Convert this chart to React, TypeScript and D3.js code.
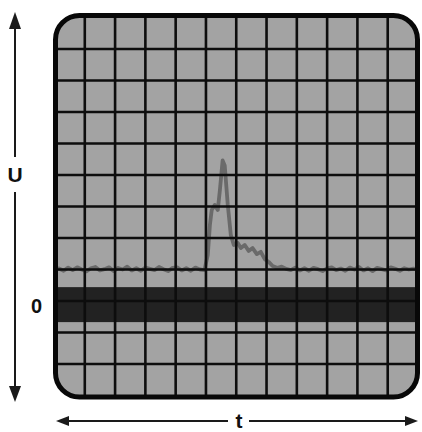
import React from "react";
import * as d3 from "d3";

// Trace sample times (in horizontal divisions) and voltages (in vertical divisions)
const traceT = [
  0.15, 0.3, 0.45, 0.6, 0.75, 0.9, 1.05, 1.2, 1.35, 1.5, 1.65, 1.8, 1.95, 2.1, 2.25, 2.4, 2.55,
  2.7, 2.85, 3.0, 3.15, 3.3, 3.45, 3.6, 3.75, 3.9, 4.05, 4.2, 4.35, 4.5, 4.65, 4.8, 4.95,
  5.06, 5.13, 5.19, 5.29, 5.39, 5.46, 5.55, 5.62, 5.72, 5.82, 5.92, 6.05, 6.15, 6.28, 6.41,
  6.54, 6.68, 6.81, 6.94, 7.07, 7.2, 7.37,
  7.5, 7.65, 7.8, 7.95, 8.1, 8.25, 8.4, 8.55, 8.7, 8.85, 9.0, 9.15, 9.3, 9.45, 9.6, 9.75, 9.9,
  10.05, 10.2, 10.35, 10.5, 10.65, 10.8, 10.95, 11.1, 11.25, 11.4, 11.55, 11.7, 11.85, 11.98,
];
const traceU = [
  1.03, 0.96, 1.06, 0.98, 1.07, 1.0, 0.94, 1.04, 1.08, 0.97, 1.01, 1.07, 0.95, 1.05, 1.0, 1.09, 0.97,
  1.04, 0.96, 1.06, 1.02, 0.98, 1.08, 1.01, 0.95, 1.05, 1.07, 0.97, 1.04, 0.96, 1.06, 1.0, 0.98,
  1.46, 2.41, 2.89, 3.05, 2.89, 3.52, 4.46, 4.3, 3.05, 2.1, 1.78, 1.84, 1.68, 1.78, 1.59,
  1.68, 1.49, 1.56, 1.33, 1.24, 1.11, 1.05,
  1.09, 1.02, 0.98, 1.06, 0.97, 1.04, 0.96, 1.05, 1.01, 0.95, 1.04, 1.07, 0.98, 1.03, 0.96, 1.06, 1.0,
  1.08, 0.97, 1.04, 0.95, 1.05, 1.01, 0.97, 1.07, 1.02, 0.96, 1.04, 1.0, 1.03, 1.0,
];

// Graticule divisions
const vDivs = [1, 2, 3, 4, 5, 6, 7, 8, 9, 10, 11];
const hDivs = [-2, -1, 0, 1, 2, 3, 4, 5, 6, 7, 8];
// Dark reference band around zero
const bandLow = -0.67;
const bandHigh = 0.44;

const axisLabels = { u: "U", zero: "0", t: "t" };

const W = 422;
const H = 432;
const frame = { x0: 55.5, x1: 417.5, y0: 15.5, y1: 397, r: 24 };

export default function App() {
  const x = d3.scaleLinear().domain([0, 12]).range([54.5, 418]);
  const y = d3.scaleLinear().domain([-2, 8]).range([364, 49]);

  const pts = traceT.map((t, i) => [t, traceU[i]] as [number, number]);
  const line = d3
    .line<[number, number]>()
    .x((d) => x(d[0]))
    .y((d) => y(d[1]));

  const font = "'Liberation Sans', Arial, sans-serif";
  const ac = "#1a1a1a";

  return (
    <svg
      width={W}
      height={H}
      style={{ position: "absolute", left: 0, top: 0, display: "block", background: "#fff" }}
    >
      <defs>
        <clipPath id="panelClip">
          <rect
            x={frame.x0}
            y={frame.y0}
            width={frame.x1 - frame.x0}
            height={frame.y1 - frame.y0}
            rx={frame.r}
            ry={frame.r}
          />
        </clipPath>
      </defs>
      <g clipPath="url(#panelClip)">
        <rect x={0} y={0} width={W} height={H} fill="#a3a3a3" />
        <rect
          x={0}
          y={y(bandHigh)}
          width={W}
          height={y(bandLow) - y(bandHigh)}
          fill="#222222"
        />
        <path
          d={line(pts) || ""}
          fill="none"
          stroke="#6a6a6a"
          strokeWidth={3.8}
          strokeLinejoin="round"
          strokeLinecap="round"
        />
        {vDivs.map((d) => (
          <line key={"v" + d} x1={x(d)} x2={x(d)} y1={0} y2={H} stroke="#0d0d0d" strokeWidth={2.6} />
        ))}
        {hDivs.map((d) => (
          <line key={"h" + d} x1={0} x2={W} y1={y(d)} y2={y(d)} stroke="#0d0d0d" strokeWidth={2.6} />
        ))}
      </g>
      <rect
        x={frame.x0}
        y={frame.y0}
        width={frame.x1 - frame.x0}
        height={frame.y1 - frame.y0}
        rx={frame.r}
        ry={frame.r}
        fill="none"
        stroke="#080808"
        strokeWidth={5}
      />

      {/* vertical U axis arrow */}
      <line x1={15} x2={15} y1={27} y2={157} stroke={ac} strokeWidth={2} />
      <line x1={15} x2={15} y1={192} y2={388} stroke={ac} strokeWidth={2} />
      <polygon points="15,12 9,29 21,29" fill={ac} />
      <polygon points="15,402 9,386 21,386" fill={ac} />
      <text x={15} y={182} textAnchor="middle" fontFamily={font} fontWeight="bold" fontSize={21} fill="#111">
        {axisLabels.u}
      </text>
      <text x={36.5} y={313} textAnchor="middle" fontFamily={font} fontWeight="bold" fontSize={20} fill="#111">
        {axisLabels.zero}
      </text>

      {/* horizontal t axis arrow */}
      <line x1={68} x2={228} y1={421} y2={421} stroke={ac} strokeWidth={2} />
      <line x1={249} x2={406} y1={421} y2={421} stroke={ac} strokeWidth={2} />
      <polygon points="56,421 69,416 69,426" fill={ac} />
      <polygon points="418,421 405,416 405,426" fill={ac} />
      <text x={239} y={428} textAnchor="middle" fontFamily={font} fontWeight="bold" fontSize={21} fill="#111">
        {axisLabels.t}
      </text>
    </svg>
  );
}
